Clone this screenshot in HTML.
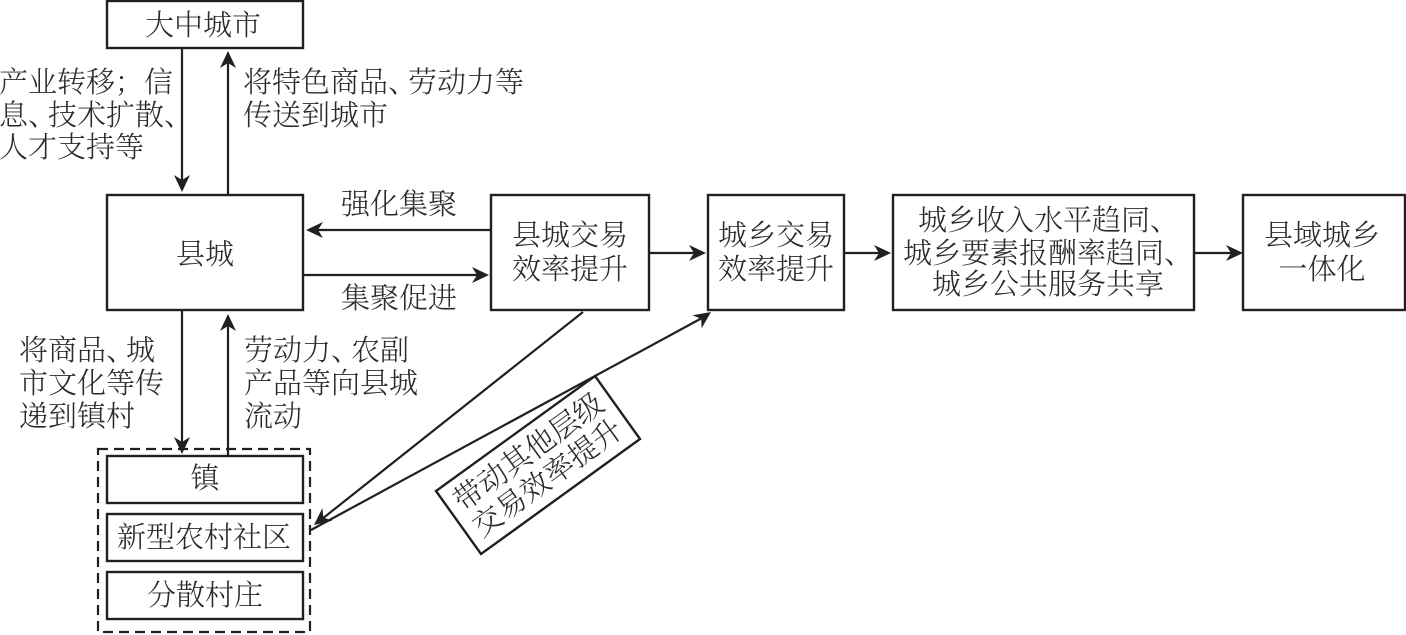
<!DOCTYPE html>
<html><head><meta charset="utf-8"><style>
html,body{margin:0;padding:0;background:#fff;width:1406px;height:635px;overflow:hidden}
svg{display:block}
text{font-family:"Liberation Serif","Noto Serif CJK SC",serif;font-size:29px;fill:#2a2a2a;font-weight:300}
.m{text-anchor:middle}
rect,polygon.b{fill:#fff;stroke:#231f20;stroke-width:2.4}
line{stroke:#231f20;stroke-width:2.2}
.h{fill:#231f20;stroke:none}
</style></head><body>
<svg width="1406" height="635" viewBox="0 0 1406 635" xmlns="http://www.w3.org/2000/svg">
<defs><path id="a" class="h" d="M0,0L-17,-8L-12,0L-17,8Z"/></defs>
<rect x="107" y="1" width="196" height="47"/>
<rect x="107" y="195" width="196" height="115"/>
<rect x="491" y="195" width="158" height="115"/>
<rect x="708" y="195" width="136" height="115"/>
<rect x="893" y="195" width="301" height="115"/>
<rect x="1243" y="195" width="162" height="115"/>
<rect x="107" y="456" width="196" height="47"/>
<rect x="107" y="514" width="196" height="47"/>
<rect x="107" y="572" width="196" height="47"/>
<path d="M98,449H310V632H98Z" fill="none" stroke="#231f20" stroke-width="2.2" stroke-dasharray="10 6"/>
<line x1="182" y1="49" x2="182" y2="182"/><use href="#a" transform="translate(182,192) rotate(90)"/>
<line x1="228" y1="195" x2="228" y2="60"/><use href="#a" transform="translate(228,51) rotate(-90)"/>
<line x1="491" y1="230" x2="316" y2="230"/><use href="#a" transform="translate(306,230) rotate(180)"/>
<line x1="304" y1="275" x2="478" y2="275"/><use href="#a" transform="translate(489,275)"/>
<line x1="182" y1="310" x2="182" y2="444"/><use href="#a" transform="translate(182,454) rotate(90)"/>
<line x1="228" y1="456" x2="228" y2="324"/><use href="#a" transform="translate(228,314) rotate(-90)"/>
<line x1="649" y1="253" x2="696" y2="253"/><use href="#a" transform="translate(706,253)"/>
<line x1="844" y1="253" x2="881" y2="253"/><use href="#a" transform="translate(891,253)"/>
<line x1="1194" y1="253" x2="1233" y2="253"/><use href="#a" transform="translate(1243,253)"/>
<line x1="583" y1="312" x2="322" y2="519"/><use href="#a" transform="translate(314,525) rotate(141.6)"/>
<line x1="311" y1="530" x2="702" y2="318"/>
<use href="#a" transform="translate(711,312) rotate(-35)"/>
<polygon class="b" points="595,376 640,439 481,554 436,491"/>
<text class="m" x="203" y="35">大中城市</text>
<text class="m" x="205" y="264">县城</text>
<text class="m" x="205" y="488">镇</text>
<text class="m" x="204" y="547">新型农村社区</text>
<text class="m" x="205" y="605">分散村庄</text>
<text x="-1" y="92">产业转移；信</text>
<text x="-1" y="125">息、<tspan dx="-9">技术扩散、</tspan></text>
<text x="-1" y="157">人才支持等</text>
<text x="243" y="92">将特色商品、<tspan dx="-9">劳动力等</tspan></text>
<text x="243" y="125">传送到城市</text>
<text class="m" x="399" y="214">强化集聚</text>
<text class="m" x="399" y="308">集聚促进</text>
<text x="19" y="360">将商品、<tspan dx="-9">城</tspan></text>
<text x="19" y="393">市文化等传</text>
<text x="19" y="426">递到镇村</text>
<text x="244" y="360">劳动力、<tspan dx="-9">农副</tspan></text>
<text x="244" y="393">产品等向县城</text>
<text x="244" y="426">流动</text>
<text class="m" x="570" y="245">县城交易</text>
<text class="m" x="570" y="279">效率提升</text>
<text class="m" x="776" y="245">城乡交易</text>
<text class="m" x="776" y="279">效率提升</text>
<text x="918" y="230">城乡收入水平趋同、</text>
<text x="903" y="263">城乡要素报酬率趋同、</text>
<text x="932" y="294">城乡公共服务共享</text>
<text class="m" x="1322" y="245">县域城乡</text>
<text class="m" x="1322" y="279">一体化</text>
<g transform="translate(538,465) rotate(-36)">
<text class="m" x="0" y="-6" style="font-size:29.5px">带动其他层级</text>
<text class="m" x="0" y="26" style="font-size:29.5px">交易效率提升</text>
</g>
</svg>
</body></html>
